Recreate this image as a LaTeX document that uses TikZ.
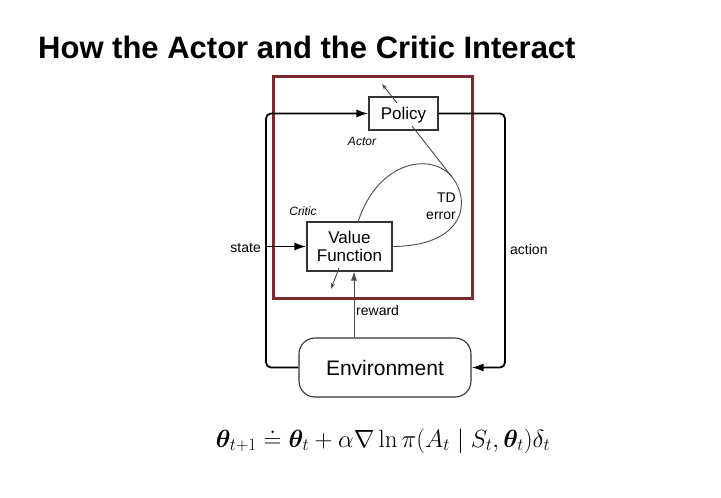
\documentclass[tikz,border=0pt]{standalone}
\usepackage{amsmath}
\usepackage{bm}
\usepackage[no-math]{fontspec}
\setmainfont{Liberation Sans}
\usetikzlibrary{arrows.meta}
\definecolor{framered}{HTML}{7B2B2F}

\begin{document}
\begin{tikzpicture}[x=1pt,y=-1pt,
  box/.style={draw=black!80, line width=1.1pt, inner sep=0pt, align=center, font=\fontsize{17}{18}\selectfont},
  flow/.style={line width=1.8pt, rounded corners=5pt, -{Latex[length=12pt,width=8pt]}},
  thinline/.style={draw=black!70, line width=0.9pt},
  thinarrow/.style={thinline, -{Stealth[length=6pt,width=4pt]}},
  lbl/.style={inner sep=0pt, font=\fontsize{14}{16}\selectfont},
  role/.style={inner sep=0pt, font=\itshape\fontsize{12}{14}\selectfont}]
\useasboundingbox (0,0) rectangle (721,498);
\fill[white] (0,0) rectangle (721,498);

% heading
\node[anchor=base west, inner sep=0pt, font=\bfseries\fontsize{31}{36}\selectfont] (title) at (38,58) {How the Actor and the Critic Interact};

% actor-critic frame
\node[draw=framered, line width=3pt, minimum width=199pt, minimum height=222pt, inner sep=0pt] (frame) at (372.5,187) {};

% blocks
\node[box, text depth=0pt, minimum width=69pt, minimum height=33pt] (policy) at (403.5,113.5) {Policy};
\node[box, minimum width=85pt, minimum height=49pt, font=\fontsize{17}{17.5}\selectfont] (vf) at (349.5,246.5) {Value\\Function};
\node[box, rounded corners=16pt, minimum width=172pt, minimum height=59pt, font=\fontsize{21}{24}\selectfont] (env) at (385,367.5) {Environment};

% guide coordinates
\coordinate (lx) at (266,0);
\coordinate (rx) at (505,0);
\coordinate (rwx) at (354,0);

% state / action loop
\draw[flow] (env.west) -- (env.west -| lx) -- (policy.west -| lx) -- (policy.west);
\draw[flow, rounded corners=0pt] (vf.west -| lx) -- (vf.west);
\draw[flow] (policy.east) -- (policy.east -| rx) -- (env.east -| rx) -- (env.east);

% reward
\draw[thinline, -{Latex[length=9pt,width=6pt]}] (env.north -| rwx) -- (vf.south -| rwx);

% update arrows
\coordinate (pa) at (397,103);
\coordinate (pb) at (382,84);
\draw[thinarrow] (pa) -- (pb);
\coordinate (va) at (339,268);
\coordinate (vb) at (331,289);
\draw[thinarrow] (va) -- (vb);

% TD error loop
\coordinate (pt) at (412,126);
\coordinate (tdtan) at (452,177);
\coordinate (vft) at (358,222);
\draw[thinline] (pt) -- (tdtan);
\draw[thinline] (vft) .. controls (378,160) and (432,152) .. (tdtan)
  .. controls (472,202) and (464,246) .. (vf.east);

% labels
\node[lbl, anchor=east] (state) at (261,248) {state};
\node[lbl, anchor=west] (action) at (510,249) {action};
\node[lbl, anchor=west] (reward) at (356,310) {reward};
\node[lbl, align=right, anchor=east, font=\fontsize{14}{17}\selectfont] (td) at (456,206) {TD\\error};
\node[role] (actor) at (362,141) {Actor};
\node[role] (critic) at (303,211) {Critic};

% policy-gradient update
\node[font=\fontsize{26}{30}\selectfont] (eq) at (383,441) {$\bm{\theta}_{t+1} \doteq \bm{\theta}_t + \alpha \nabla \ln \pi(A_t \mid S_t, \bm{\theta}_t)\delta_t$};
\end{tikzpicture}
\end{document}
